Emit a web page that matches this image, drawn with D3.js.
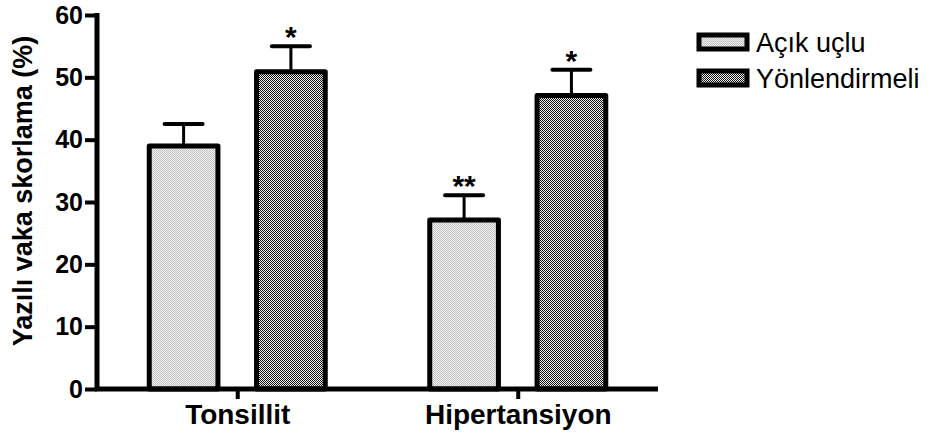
<!DOCTYPE html>
<html>
<head>
<meta charset="utf-8">
<script src="https://cdn.jsdelivr.net/npm/d3@7"></script>
<style>
  body { margin: 0; background: #fff; }
  svg { display: block; }
</style>
</head>
<body>
<div class="container"></div>
<script>
const WIDTH = 940;
const HEIGHT = 439;

// data
const categories = ["Tonsillit", "Hipertansiyon"];
const series = ["Açık uçlu", "Yönlendirmeli"];
const acikUclu = [39.0, 27.1];
const acikUcluErr = [3.5, 4.0];
const yonlendirmeli = [50.9, 47.1];
const yonlendirmeliErr = [4.1, 4.1];
const stars = [["", "*"], ["**", "*"]];
const yTicks = [0, 10, 20, 30, 40, 50, 60];

var FONT = "'Liberation Sans', Arial, Helvetica, sans-serif";

var svg = d3.select(".container")
    .append("svg")
    .attr("width", WIDTH)
    .attr("height", HEIGHT);

var defs = svg.append("defs");
var light = defs.append("pattern")
    .attr("id", "light").attr("width", 2).attr("height", 2)
    .attr("patternUnits", "userSpaceOnUse");
light.append("rect").attr("width", 2).attr("height", 2).attr("fill", "#eeeeee");
light.append("rect").attr("width", 1).attr("height", 1).attr("fill", "#c4c4c4");
light.append("rect").attr("x", 1).attr("y", 1).attr("width", 1).attr("height", 1).attr("fill", "#c4c4c4");

var dark = defs.append("pattern")
    .attr("id", "dark").attr("width", 2).attr("height", 2)
    .attr("patternUnits", "userSpaceOnUse");
dark.append("rect").attr("width", 2).attr("height", 2).attr("fill", "#f2f2f2");
dark.append("rect").attr("width", 1).attr("height", 1).attr("fill", "#111");
dark.append("rect").attr("x", 1).attr("y", 1).attr("width", 1).attr("height", 1).attr("fill", "#111");

var fills = ["url(#light)", "url(#dark)"];

var yScale = d3.scaleLinear().domain([0, 60]).range([389, 15]);
var xScale = d3.scalePoint().domain(categories).range([97, 658]).padding(0.5);
var inner = d3.scaleBand().domain(series).range([-88, 88]).paddingInner(0.36);

var rows = [];
categories.forEach(function (c, i) {
    rows.push({ cat: c, s: series[0], v: acikUclu[i], e: acikUcluErr[i], star: stars[i][0], k: 0 });
    rows.push({ cat: c, s: series[1], v: yonlendirmeli[i], e: yonlendirmeliErr[i], star: stars[i][1], k: 1 });
});

function cx(d) { return xScale(d.cat) + inner(d.s) + inner.bandwidth() / 2; }

// error bars (upper only)
var eb = svg.append("g");
eb.selectAll("line.stem").data(rows).enter().append("line")
    .attr("x1", cx).attr("x2", cx)
    .attr("y1", function (d) { return yScale(d.v); })
    .attr("y2", function (d) { return yScale(d.v + d.e); })
    .attr("stroke", "#000").attr("stroke-width", 3);
eb.selectAll("line.cap").data(rows).enter().append("line")
    .attr("x1", function (d) { return cx(d) - 19; })
    .attr("x2", function (d) { return cx(d) + 19; })
    .attr("y1", function (d) { return yScale(d.v + d.e); })
    .attr("y2", function (d) { return yScale(d.v + d.e); })
    .attr("stroke", "#000").attr("stroke-width", 4).attr("stroke-linecap", "round");

// bars
svg.append("g").selectAll("rect").data(rows).enter().append("rect")
    .attr("x", function (d) { return xScale(d.cat) + inner(d.s); })
    .attr("width", inner.bandwidth())
    .attr("y", function (d) { return yScale(d.v); })
    .attr("height", function (d) { return yScale(0) - yScale(d.v); })
    .attr("fill", function (d) { return fills[d.k]; })
    .attr("stroke", "#000").attr("stroke-width", 5)
    .attr("stroke-linejoin", "round");

// significance stars
svg.append("g").selectAll("text").data(rows).enter().append("text")
    .attr("x", cx)
    .attr("y", function (d) { return yScale(d.v + d.e) + 1; })
    .attr("text-anchor", "middle")
    .style("font-family", FONT)
    .style("font-weight", "bold")
    .style("font-size", "30px")
    .text(function (d) { return d.star; });

// y axis
var yAxis = svg.append("g")
    .attr("transform", "translate(97,0)")
    .call(d3.axisLeft(yScale).tickValues(yTicks).tickSize(12).tickPadding(2));
yAxis.select(".domain").attr("stroke-width", 5).attr("d", "M0," + (yScale(60) - 2) + "V" + (yScale(0) + 2));
yAxis.selectAll(".tick line").attr("stroke-width", 4);
yAxis.selectAll(".tick text")
    .style("font-family", FONT)
    .style("font-weight", "bold")
    .style("font-size", "25px")
    .attr("fill", "#000");

// x axis
var xAxis = svg.append("g")
    .attr("transform", "translate(0,389)")
    .call(d3.axisBottom(xScale).tickSize(10).tickPadding(5));
xAxis.select(".domain").attr("stroke-width", 5).attr("d", "M95,0H658");
xAxis.selectAll(".tick line").attr("stroke-width", 4);
xAxis.selectAll(".tick text")
    .style("font-family", FONT)
    .style("font-weight", "bold")
    .style("font-size", "28px")
    .attr("fill", "#000");

// y label
svg.append("text")
    .attr("transform", "translate(32,191) rotate(-90)")
    .attr("text-anchor", "middle")
    .style("font-family", FONT)
    .style("font-weight", "bold")
    .style("font-size", "27px")
    .text("Yazılı vaka skorlama (%)");

// legend
var legend = svg.append("g").attr("transform", "translate(699,35)");
var items = legend.selectAll("g").data(series).enter().append("g")
    .attr("transform", function (d, i) { return "translate(0," + (i * 36) + ")"; });
items.append("rect")
    .attr("width", 48).attr("height", 14)
    .attr("fill", function (d, i) { return fills[i]; })
    .attr("stroke", "#000").attr("stroke-width", 5);
items.append("text")
    .attr("x", 57).attr("y", 17)
    .style("font-family", FONT)
    .style("font-size", "27px")
    .text(function (d) { return d; });
</script>
</body>
</html>
